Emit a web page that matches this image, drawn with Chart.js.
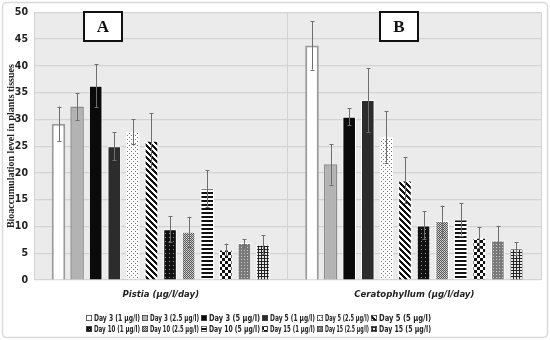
<!DOCTYPE html>
<html><head><meta charset="utf-8">
<script src="https://cdn.jsdelivr.net/npm/chart.js@4"></script>
<style>html,body{margin:0;padding:0;background:#fff}#wrap{width:550px;height:340px;position:relative}</style>
</head><body><div id="wrap"><canvas id="c" width="550" height="340"></canvas></div>
<script>
const categories = ['Pistia (µg/l/day)', 'Ceratophyllum (µg/l/day)'];
const seriesLabels = ['Day 3 (1 µg/l)','Day 3 (2.5 µg/l)','Day 3 (5 µg/l)','Day 5 (1 µg/l)','Day 5 (2.5 µg/l)','Day 5 (5 µg/l)',
  'Day 10 (1 µg/l)','Day 10 (2.5 µg/l)','Day 10 (5 µg/l)','Day 15 (1 µg/l)','Day 15 (2.5 µg/l)','Day 15 (5 µg/l)'];
const pistiaValues = [29.2, 32.4, 36.3, 25.0, 27.7, 26.0, 9.5, 9.0, 17.1, 5.7, 6.9, 6.6];
const pistiaErrors = [3.2, 2.5, 4.0, 2.6, 2.3, 5.1, 2.4, 2.8, 3.4, 1.1, 0.7, 1.8];
const ceratoValues = [43.8, 21.6, 30.5, 33.6, 26.7, 18.6, 10.2, 11.0, 11.3, 7.9, 7.4, 5.9];
const ceratoErrors = [4.5, 3.8, 1.6, 6.0, 4.8, 4.3, 2.6, 2.9, 3.0, 2.0, 2.7, 1.2];
const yTicks = [0,5,10,15,20,25,30,35,40,45,50];

function pat(size, fn){
  const c = document.createElement('canvas'); c.width = c.height = size;
  const g = c.getContext('2d');
  for (let y=0;y<size;y++) for (let x=0;x<size;x++){ g.fillStyle = fn(x,y); g.fillRect(x,y,1,1); }
  return g.createPattern(c,'repeat');
}
const fills = [
  '#ffffff',
  '#b3b3b3',
  '#0a0a0a',
  '#2c2c2c',
  pat(4,(x,y)=> ((x===1&&y===1)||(x===3&&y===3)) ? '#777777' : '#ffffff'),
  pat(6,(x,y)=> ((x - y + 12) % 6 < 3) ? '#111' : '#fff'),
  pat(4,(x,y)=> (x===1&&y===1) ? '#9a9a9a' : '#111'),
  pat(4,(x,y)=> ((x+y)%2===0) ? '#555' : ((x%2===0)?'#ddd':'#bbb')),
  pat(4,(x,y)=> (y<2) ? '#111' : '#fff'),
  pat(6,(x,y)=> ((Math.floor(x/3)+Math.floor(y/3))%2===0) ? '#111' : '#fff'),
  pat(3,(x,y)=> (x===1&&y===1) ? '#c8c8c8' : '#7a7a7a'),
  pat(3,(x,y)=> (x===0||y===0) ? '#222' : '#e8e8e8')
];
const borders = ['#9a9a9a','#8c8c8c','#ffffff','#ffffff','#ffffff','#ffffff','#ffffff','#ffffff','#ffffff','#ffffff','#ffffff','#ffffff'];
const bwidths = [2,1.5,1,1,1,1,1,1,1,1,1,1];

const datasets = seriesLabels.map((lab,i)=>({
  label: lab,
  data: [pistiaValues[i], ceratoValues[i]],
  errors: [pistiaErrors[i], ceratoErrors[i]],
  backgroundColor: fills[i],
  borderColor: borders[i],
  borderWidth: bwidths[i],
  categoryPercentage: 0.88,
  barPercentage: 0.73
}));

const bgPlugin = {
  id:'bg',
  beforeDraw(chart){
    const {ctx, chartArea:a} = chart;
    ctx.save();
    ctx.fillStyle='#fff'; ctx.fillRect(0,0,chart.width,chart.height);
    ctx.strokeStyle='#d9d9d9'; ctx.lineWidth=1.5;
    ctx.beginPath(); ctx.roundRect(2.5,2.5,545,335,4); ctx.stroke();
    ctx.fillStyle='#ebebeb'; ctx.fillRect(a.left,a.top,a.right-a.left,a.bottom-a.top);
    ctx.restore();
  }
};
const errPlugin = {
  id:'err',
  afterDatasetsDraw(chart){
    const {ctx} = chart; const ys = chart.scales.y;
    ctx.save(); ctx.strokeStyle='#6e6e6e'; ctx.lineWidth=1;
    chart.data.datasets.forEach((ds,di)=>{
      const meta = chart.getDatasetMeta(di);
      meta.data.forEach((el,j)=>{
        const v = ds.data[j], e = ds.errors[j];
        const t = ys.getPixelForValue(v+e), b = ys.getPixelForValue(v-e), x = Math.round(el.x)+0.5;
        ctx.beginPath(); ctx.moveTo(x,t); ctx.lineTo(x,b);
        ctx.moveTo(x-2,Math.round(t)+0.5); ctx.lineTo(x+2,Math.round(t)+0.5);
        ctx.moveTo(x-2,Math.round(b)+0.5); ctx.lineTo(x+2,Math.round(b)+0.5);
        ctx.stroke();
      });
    });
    ctx.restore();
  }
};
const decoPlugin = {
  id:'deco',
  afterDraw(chart){
    const {ctx} = chart;
    ctx.save();
    const boxes = [['A', 84], ['B', 380]];
    boxes.forEach(([t,x])=>{
      ctx.fillStyle='#fff'; ctx.fillRect(x,12,38,29);
      ctx.strokeStyle='#111'; ctx.lineWidth=2; ctx.strokeRect(x,12,38,29);
      ctx.fillStyle='#111'; ctx.font='bold 17px "Liberation Serif", serif';
      ctx.textAlign='center'; ctx.textBaseline='middle'; ctx.fillText(t,x+19,27.5);
    });
    const cols = [86,142,201,262,317,371];
    const maxW = [46,49,51,45,44,52];
    const rows = [318,329];
    ctx.font='bold 9.5px "Liberation Sans Narrow","DejaVu Sans Condensed","Noto Sans",sans-serif';
    ctx.textAlign='left'; ctx.textBaseline='middle';
    seriesLabels.forEach((lab,i)=>{
      const r = Math.floor(i/6), c = i%6;
      const x = cols[c], y = rows[r];
      ctx.fillStyle = fills[i]; ctx.fillRect(x,y-3,6,6);
      ctx.strokeStyle='#444'; ctx.lineWidth=0.8; ctx.strokeRect(x+0.4,y-2.6,5.2,5.2);
      ctx.fillStyle='#222';
      ctx.fillText(lab, x+8, y+0.5, maxW[c]);
    });
    ctx.restore();
  }
};

new Chart(document.getElementById('c'), {
  type:'bar',
  data:{ labels: categories, datasets },
  plugins:[bgPlugin, errPlugin, decoPlugin],
  options:{
    responsive:false, animation:false,
    layout:{ padding:{ left:0, right:9, top:12, bottom:0 } },
    plugins:{ legend:{display:false}, tooltip:{enabled:false} },
    scales:{
      x:{
        afterFit(s){ s.height = 60; },
        grid:{ color:'#d3d3d3', drawTicks:false, offset:true },
        border:{ display:false },
        ticks:{ padding:9, color:'#222', font:{ family:'"Liberation Sans Narrow","DejaVu Sans Condensed",sans-serif', size:9.5, style:'italic', weight:'bold' } }
      },
      y:{
        min:0, max:50,
        afterFit(s){ s.width = 34; },
        afterBuildTicks(s){ s.ticks = yTicks.map(v=>({value:v})); },
        grid:{ color:'#d3d3d3', drawTicks:false, lineWidth:1.2 },
        border:{ display:false },
        ticks:{ padding:6, color:'#222', font:{ family:'"Liberation Sans Narrow","DejaVu Sans Condensed",sans-serif', size:10.5, weight:'bold' } },
        title:{ display:true, text:'Bioaccumulation level in plants tissues', color:'#222', padding:{top:5,bottom:0},
          font:{ family:'"Liberation Serif",serif', size:10, weight:'bold' } }
      }
    }
  }
});
</script></body></html>
